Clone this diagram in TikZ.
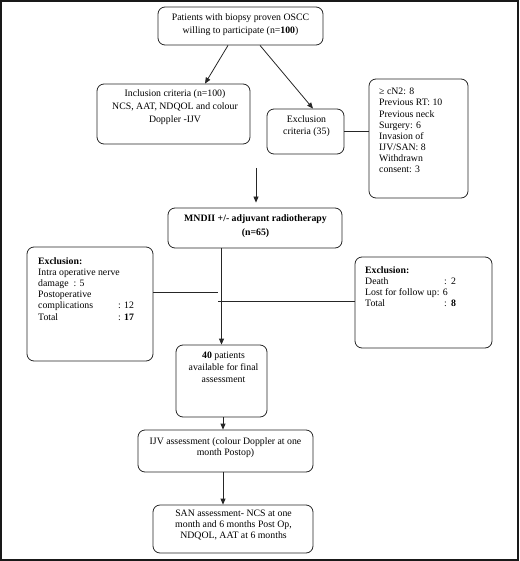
\documentclass[tikz,border=0pt]{standalone}
\usepackage{fontspec}
\setmainfont{Liberation Serif}
\usetikzlibrary{arrows.meta}
\tikzset{
  box/.style={draw=black!85, line width=0.8pt, rounded corners=7pt, inner sep=0pt, minimum width=#1},
  txt/.style={inner sep=0pt, font=\fontsize{9.8}{11.2}\selectfont},
  conn/.style={draw=black!85, line width=0.8pt},
  arr/.style={conn, -{Triangle[length=6pt,width=5pt]}}
}
\begin{document}
\begin{tikzpicture}[x=1pt,y=-1pt]
\useasboundingbox (0,0) rectangle (519,561);
\draw[line width=2pt, black!90] (1,1) rectangle (518,560);

% boxes
\node[box=165pt, minimum height=38pt] (top) at (240.5,26) {};
\node[box=153pt, minimum height=60pt] (incl) at (173.5,114) {};
\node[box=77pt, minimum height=45pt] (excl) at (305.5,131.5) {};
\node[box=99pt, minimum height=119pt] (det) at (418.5,138.5) {};
\node[box=174pt, minimum height=40pt] (mnd) at (255,228) {};
\node[box=126pt, minimum height=114pt] (lex) at (90,304) {};
\node[box=137pt, minimum height=91pt] (rex) at (423.5,302.5) {};
\node[box=91pt, minimum height=72pt] (p40) at (221.5,381) {};
\node[box=175pt, minimum height=42pt] (ijv) at (225.5,451) {};
\node[box=160pt, minimum height=48pt] (san) at (233,529) {};

% texts
\node[txt, anchor=north, align=center, font=\fontsize{9.8}{13.3}\selectfont] (ttop) at (240.5,13.5)
  {Patients with biopsy proven OSCC\\willing to participate (n=\textbf{100})};
\node[txt, anchor=north, align=center, font=\fontsize{9.8}{13}\selectfont] (tincl) at (175,90)
  {Inclusion criteria (n=100)\\NCS, AAT, NDQOL and colour\\Doppler -IJV};
\node[txt, anchor=north, align=center, font=\fontsize{9.8}{12}\selectfont] (texcl) at (306.5,116)
  {Exclusion\\criteria (35)};
\node[txt, anchor=north west, align=left, font=\fontsize{9.8}{11.15}\selectfont] (tdet) at (379,88)
  {≥ cN2: 8\\Previous RT: 10\\Previous neck\\Surgery: 6\\Invasion of\\IJV/SAN: 8\\Withdrawn\\consent: 3};
\node[txt, anchor=north, align=center, font=\fontsize{9.8}{14}\selectfont\bfseries] (tmnd) at (255.5,214)
  {MNDII +/- adjuvant radiotherapy\\(n=65)};
\node[txt, anchor=north west, align=left] (tlex) at (38,257)
  {\textbf{Exclusion:}\\Intra operative nerve\\damage\ \ : 5\\Postoperative\\\makebox[80pt][l]{complications}: 12\\\makebox[80pt][l]{Total}: \textbf{17}};
\node[txt, anchor=north west, align=left, font=\fontsize{9.8}{11}\selectfont] (trex) at (365,266)
  {\textbf{Exclusion:}\\\makebox[79pt][l]{Death}:\ \,2\\Lost for follow up: 6\\\makebox[79pt][l]{Total}:\ \,\textbf{8}};
\node[txt, anchor=north, align=center, font=\fontsize{9.8}{11.7}\selectfont] (tp40) at (223.5,352)
  {\textbf{40} patients\\available for final\\assessment};
\node[txt, anchor=north, align=center, font=\fontsize{9.8}{11.5}\selectfont] (tijv) at (225.5,437)
  {IJV assessment (colour Doppler at one\\month Postop)};
\node[txt, anchor=north, align=center, font=\fontsize{9.8}{11}\selectfont] (tsan) at (233.5,510)
  {SAN assessment- NCS at one\\month and 6 months Post Op,\\NDQOL, AAT at 6 months};

% connectors
\draw[arr] ([xshift=-12.5pt]top.south) -- ([xshift=31.5pt]incl.north);
\draw[arr] ([xshift=19.5pt]top.south) -- ([xshift=7.5pt]excl.north);
\draw[conn] (excl.east) -- (excl.east -| det.west);
\coordinate (fa) at (256,168);
\draw[arr, shorten >=5pt] (fa) -- (fa |- mnd.north);
\draw[arr] (mnd.south -| p40.north) -- (p40.north);
\coordinate (lj) at (218,292);
\coordinate (rj) at (218,301);
\draw[conn] (lj -| lex.east) -- (lj);
\draw[conn] (rj) -- (rj -| rex.west);
\coordinate (dn) at (223,0);
\draw[arr] (dn |- p40.south) -- (dn |- ijv.north);
\draw[arr] (dn |- ijv.south) -- (dn |- san.north);
\end{tikzpicture}
\end{document}
